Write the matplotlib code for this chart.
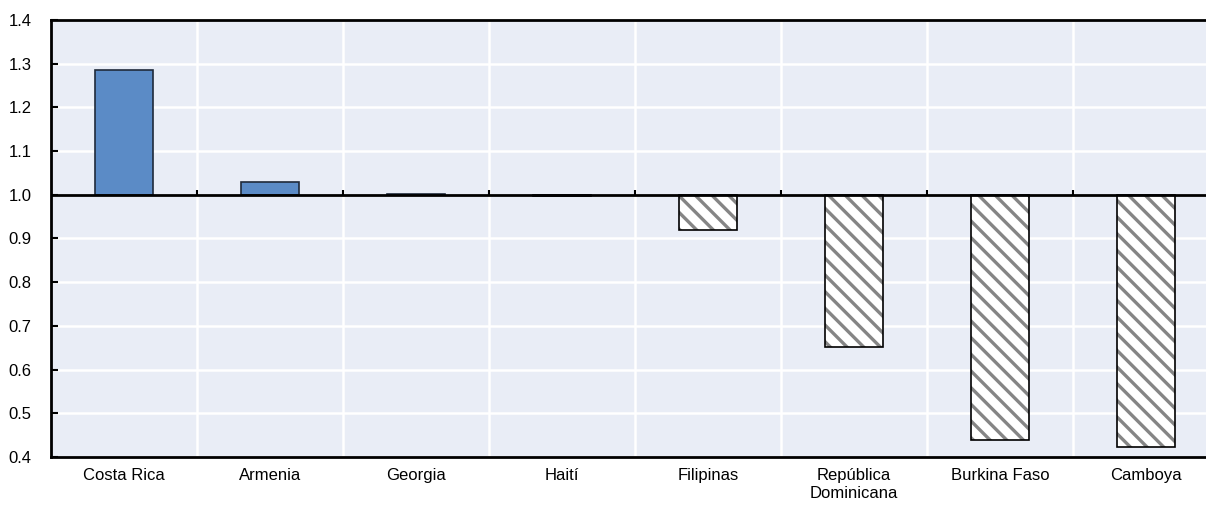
import numpy as np
from matplotlib import pyplot as plt

countries = ['Costa Rica', 'Armenia', 'Georgia', 'Haití', 'Filipinas',
             'República\nDominicana', 'Burkina Faso', 'Camboya']
ratios = [1.285, 1.029, 1.002, 0.998, 0.919, 0.652, 0.439, 0.423]
y_ticks = [0.4, 0.5, 0.6, 0.7, 0.8, 0.9, 1.0, 1.1, 1.2, 1.3, 1.4]

plt.rcParams['font.family'] = ['Liberation Sans Narrow', 'Liberation Sans', 'DejaVu Sans']
plt.rcParams['hatch.linewidth'] = 2.4

fig = plt.figure(figsize=(12.06, 5.05), dpi=100)
# right edge runs past the picture, as in the source
ax = fig.add_axes([51 / 1206, 48 / 505, 1168 / 1206, 437 / 505])
ax.set_facecolor('#E9EDF6')

x = np.arange(len(countries))
base = 1.0
heights = [r - base for r in ratios]
blue = [h >= 0 for h in heights]

for xi, h, up in zip(x, heights, blue):
    if up:
        ax.bar(xi, h, bottom=base, width=0.4, color='#5B8BC6',
               edgecolor='#1F2A3A', linewidth=1.2, zorder=3)
    else:
        ax.bar(xi, h, bottom=base, width=0.4, color='white',
               edgecolor='#858585', hatch='\\\\', linewidth=0, zorder=3)
        ax.bar(xi, h, bottom=base, width=0.4, fill=False,
               edgecolor='black', linewidth=1.2, zorder=4)

ax.axhline(base, color='black', linewidth=2, zorder=5)

ax.set_xlim(-0.5, len(countries) - 0.5)
ax.set_ylim(0.4, 1.4)
ax.set_yticks(y_ticks)
ax.set_yticklabels([f'{v:.1f}' for v in y_ticks])
ax.set_xticks(x)
ax.set_xticklabels(countries)
ax.set_xticks(x[:-1] + 0.5, minor=True)

ax.grid(True, which='major', axis='y', color='white', linewidth=1.8, zorder=0)
ax.grid(True, which='minor', axis='x', color='white', linewidth=1.8, zorder=0)
ax.set_axisbelow(True)

ax.tick_params(axis='x', which='both', length=0, pad=8, labelsize=12)
ax.tick_params(axis='y', direction='in', length=5, width=1.5, pad=14, labelsize=12)

# small tick marks on the 1.0 line between groups
ax.vlines(x[:-1] + 0.5, base, base + 0.012, color='black', linewidth=1.5, zorder=5)

for side in ['left', 'top', 'bottom']:
    ax.spines[side].set_linewidth(2)
    ax.spines[side].set_color('black')
ax.spines['right'].set_visible(False)

fig.savefig('out.png', dpi=100)
